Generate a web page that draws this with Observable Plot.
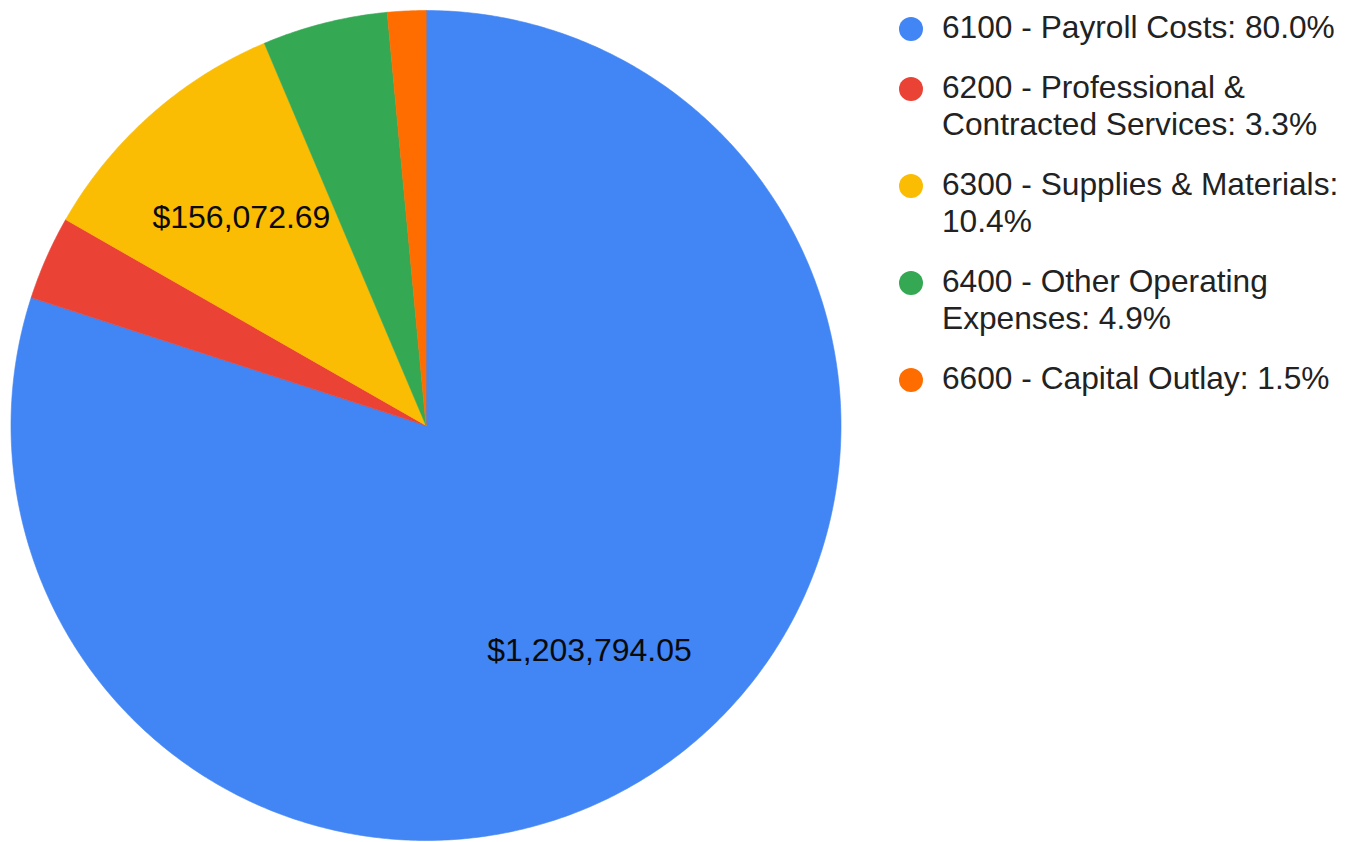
<!DOCTYPE html>
<html>
<head>
<meta charset="utf-8">
<script src="https://cdn.jsdelivr.net/npm/d3@7"></script>
<script src="https://cdn.jsdelivr.net/npm/@observablehq/plot@0.6"></script>
<style>
  html, body { margin: 0; padding: 0; background: #fff; }
  #wrap { position: relative; width: 1355px; height: 842px; overflow: hidden; }
  #legend { position: absolute; left: 897px; top: 8.5px; width: 458px;
    font-family: "Liberation Sans", Arial, sans-serif; font-size: 31.7px; line-height: 37px; color: #222; }
  .item { position: relative; padding-left: 45px; margin-bottom: 23px; }
  .dot { position: absolute; left: 2px; top: 8.5px; width: 24px; height: 24px; border-radius: 50%; }
</style>
</head>
<body>
<div id="wrap"><div id="chart"></div><div id="legend"></div></div>
<script>
const categories = [
  "6100 - Payroll Costs",
  "6200 - Professional & Contracted Services",
  "6300 - Supplies & Materials",
  "6400 - Other Operating Expenses",
  "6600 - Capital Outlay"
];
const amounts = [1203794.05, 49300, 156072.69, 73400, 22433];
const colors = ["#4285f4", "#ea4335", "#fbbc04", "#34a853", "#ff6d01"];
const labelThreshold = 0.1;

const total = d3.sum(amounts);
let acc = 0;
const slices = categories.map((c, i) => {
  const a0 = acc / total * 2 * Math.PI;
  acc += amounts[i];
  const a1 = acc / total * 2 * Math.PI;
  return {key: c, value: amounts[i], a0, a1, frac: amounts[i] / total, color: colors[i]};
});

const pts = slices.flatMap(s => {
  const n = Math.max(2, Math.ceil((s.a1 - s.a0) / (Math.PI / 360)));
  const arr = [{key: s.key, x: 0, y: 0}];
  for (let j = 0; j <= n; j++) {
    const a = s.a0 + (s.a1 - s.a0) * j / n;
    arr.push({key: s.key, x: Math.sin(a), y: Math.cos(a)});
  }
  return arr;
});

const labels = slices.filter(s => s.frac >= labelThreshold).map(s => {
  const m = (s.a0 + s.a1) / 2;
  return {x: 0.67 * Math.sin(m), y: 0.67 * Math.cos(m), label: d3.format("$,.2f")(s.value)};
});

const chart = Plot.plot({
  width: 1355, height: 842,
  marginLeft: 10.5, marginRight: 514.5, marginTop: 10, marginBottom: 2,
  x: {domain: [-1, 1], axis: null},
  y: {domain: [-1, 1], axis: null},
  color: {domain: categories, range: colors},
  style: {fontFamily: "'Liberation Sans', Arial, sans-serif", background: "#fff"},
  marks: [
    Plot.line(pts, {x: "x", y: "y", z: "key", fill: "key", stroke: "key", strokeWidth: 0.6, curve: "linear-closed"}),
    Plot.text(labels, {x: "x", y: "y", text: "label", fontSize: 32, fill: "#0a0a0a", textAnchor: "middle", lineAnchor: "middle"})
  ]
});
document.getElementById("chart").appendChild(chart);

const legend = d3.select("#legend");
slices.forEach(s => {
  const item = legend.append("div").attr("class", "item");
  item.append("span").attr("class", "dot").style("background", s.color);
  item.append("span").text(`${s.key}: ${d3.format(".1%")(s.frac)}`);
});
</script>
</body>
</html>
